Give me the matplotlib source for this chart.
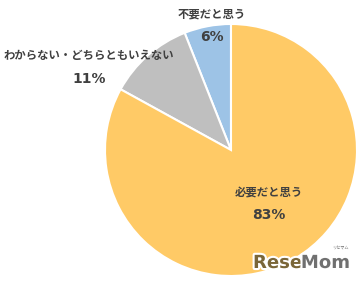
import matplotlib.pyplot as plt
import matplotlib.patheffects as pe

plt.rcParams['font.family'] = ['Noto Sans CJK JP', 'DejaVu Sans']

# -------------------------
# Data
# -------------------------
labels = ["不要だと思う", "わからない・どちらともいえない", "必要だと思う"]
values = [6, 11, 83]
colors = ["#9DC3E6", "#BFBFBF", "#FFCA66"]

# label anchor (pixels, y up): name line / percent line
label_pos = [(212, 271, 248), (89, 230, 206), (269, 92, 70)]

# -------------------------
# Figure
# -------------------------
fig = plt.figure(figsize=(3.63, 2.85), dpi=100)
ax = fig.add_axes([0, 0, 1, 1])

ax.pie(
    values,
    colors=colors,
    startangle=90,
    counterclock=True,
    center=(231, 135),
    radius=126,
    wedgeprops=dict(edgecolor="white", linewidth=1.5),
    frame=True,
)
ax.set_xlim(0, 363)
ax.set_ylim(0, 285)
ax.set_aspect("equal")
ax.axis("off")

text_color = "#404040"
for lab, val, (x, y1, y2) in zip(labels, values, label_pos):
    ax.text(x, y1, lab, ha="center", va="center", fontsize=8.2,
            fontweight="bold", color=text_color)
    ax.text(x, y2, f"{val}%", ha="center", va="center", fontsize=10,
            fontweight="bold", color=text_color, family="DejaVu Sans")

# watermark
stroke = [pe.withStroke(linewidth=3, foreground="white")]
t1 = ax.text(253, 22, "Rese", ha="left", va="center", fontsize=13,
             fontweight="bold", color="#7A6638", path_effects=stroke,
             family="DejaVu Sans")
fig.canvas.draw()
bb = t1.get_window_extent().transformed(ax.transData.inverted())
ax.text(bb.x1 - 1, 22, "Mom", ha="left", va="center", fontsize=13,
        fontweight="bold", color="#707070", path_effects=stroke,
        family="DejaVu Sans")
ax.text(340, 37, "リセマム", ha="center", va="center", fontsize=3,
        color="#707070")

plt.savefig("out.png", dpi=100)
